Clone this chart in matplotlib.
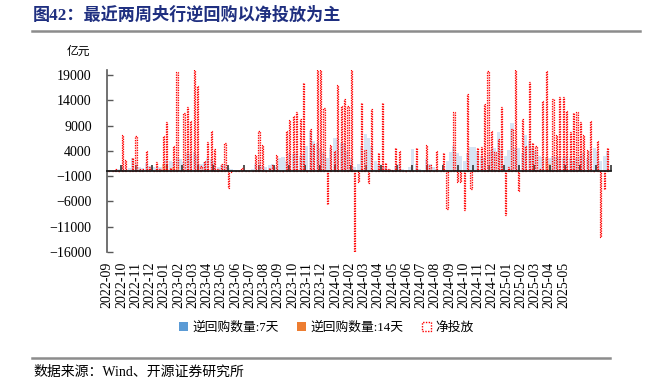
import numpy as np
import matplotlib.pyplot as plt
from matplotlib.patches import Patch

plt.rcParams['font.family'] = ['Liberation Serif', 'Noto Sans CJK SC', 'DejaVu Sans']

N = 147  # weekly points, 2022-09 .. 2025-06

# net injection (亿元): {week index: value}
net_pts = {
    2: 500, 4: 7100, 5: 2100, 7: 2500, 8: 7000, 9: 400, 10: 400, 11: 4000,
    12: 800, 14: 1800, 15: 400, 16: 7000, 17: 9700, 18: 650, 19: 5000,
    20: 19600, 22: 11500, 23: 12700, 24: 10000, 25: 20000, 26: 16900,
    27: 1000, 28: 2000, 29: 5700, 30: 8000, 31: 4350, 32: 500, 33: 1400,
    34: 5500, 35: -3400, 36: -250, 38: 100, 39: 700, 41: 100, 42: 100,
    43: 3200, 44: 8000, 45: 5100, 46: 100, 47: 700, 48: 1200, 49: 3200,
    50: 100, 51: 100, 52: 8000, 53: 10200, 54: 10900, 55: 11700, 56: 10400,
    57: 17500, 59: 8400, 60: 5300, 61: 20000, 62: 20000, 63: 12500,
    64: -6600, 65: 5100, 66: 4000, 67: 17000, 68: 12900, 69: 14200,
    70: 12900, 71: 20000, 72: -16300, 73: -2100, 74: 13400, 75: 4100,
    76: -2400, 77: 12200, 78: 100, 79: 3600, 80: 13400, 81: 1600, 82: 400,
    83: 300, 84: 4500, 85: 4000, 86: 100, 87: 100, 88: 100, 90: 4500,
    91: 100, 92: 100, 93: 5100, 94: 1200, 95: 100, 96: 4000, 98: 3500,
    99: -7500, 100: 100, 101: 11700, 102: -2100, 103: -2100, 104: -7700,
    105: 15200, 106: -3600, 108: 4600, 109: 4800, 110: 13200, 111: 19800,
    112: 8000, 113: 3700, 114: 6300, 115: 12600, 116: -8600, 117: 850,
    118: 8300, 119: 20000, 120: -4000, 121: 10300, 122: 4900, 123: 17700,
    124: 5500, 125: 4900, 126: 400, 127: 13800, 128: 19800, 129: 100,
    130: 14200, 131: 7100, 132: 14600, 133: 14600, 134: 11900, 135: 7800,
    136: 11400, 137: 11600, 138: 9800, 139: 7100, 140: 4100, 141: 9900,
    143: 5900, 144: -13000, 145: -3600, 146: 4500,
}

# 7-day reverse repo volume (亿元)
rr7 = [0, 0, 300, 500, 800, 300, 600, 2600, 1500, 800,
       600, 1600, 1000, 900, 700, 800, 1500, 2200, 2000, 1800,
       2500, 2400, 1800, 3500, 3300, 3800, 3200, 1500, 1800, 2600,
       2400, 2000, 900, 1200, 1500, 600, 400, 300, 200, 300,
       200, 300, 400, 1500, 2000, 1000, 800, 1200, 1500, 900,
       2500, 2800, 2000, 3500, 3300, 3600, 3000, 3300, 5000, 8000,
       6000, 5500, 4500, 3500, 2500, 4500, 6600, 6600, 5500, 5500,
       4000, 2500, 800, 1500, 5000, 7400, 6500, 5000, 2000, 1500,
       1200, 800, 500, 300, 1000, 1500, 500, 300, 800, 4350,
       1500, 500, 300, 2300, 1500, 800, 500, 300, 1000, 2000,
       3700, 5000, 3500, 3000, 2000, 3500, 4800, 4800, 4000, 3000,
       2500, 3500, 4200, 4500, 7800, 4200, 3000, 4100, 9600, 4500,
       4500, 3500, 7100, 6000, 4500, 4000, 3000, 2800, 2500, 2500,
       3000, 2800, 2800, 2500, 3000, 2500, 2000, 2500, 3000, 3500,
       2500, 4000, 4500, 4000, 2000, 3000, 4000]

# 14-day reverse repo volume (亿元)
rr14_pts = {16: 1500, 17: 1200, 19: 800, 20: 1000, 128: 2800, 129: 1500}

month_labels = [f'{y}-{m:02d}' for y in (2022, 2023, 2024, 2025)
                for m in range(1, 13)
                if (2022, 9) <= (y, m) <= (2025, 5)]

net = np.zeros(N)
for k, v in net_pts.items():
    net[k] = v
rr14 = np.zeros(N)
for k, v in rr14_pts.items():
    rr14[k] = v
x = np.arange(N)

fig = plt.figure(figsize=(6.7, 3.88), dpi=100)
ax = fig.add_axes([107 / 670, 1 - 252 / 388, 504 / 670, 182 / 388])

ax.bar(x, rr7, width=0.9, color='#cfe0f2', alpha=0.85, zorder=1)
ax.bar(x, rr14, width=0.9, color='#f6c29c', alpha=0.85, zorder=1)
ax.bar(x, net, width=0.35, facecolor=(1, 0.6, 0.6, 0.5), edgecolor='#ff0000',
       linewidth=0.9, linestyle=(0, (1, 1)), zorder=2)

ax.set_xlim(-0.5, N - 0.5)
ax.set_ylim(-16000, 20000)
ax.set_yticks(np.arange(-16000, 19001, 5000))
ax.tick_params(axis='y', direction='in', length=4, width=1, color='#595959',
               labelsize=10, pad=11)
ax.spines['left'].set_color('#595959')
ax.spines['left'].set_linewidth(1.2)
ax.spines['top'].set_visible(False)
ax.spines['right'].set_visible(False)

# zero line carries the short month ticks
ax.spines['bottom'].set_position(('data', 0))
ax.spines['bottom'].set_color('#1a1a1a')
ax.spines['bottom'].set_linewidth(1.3)
ax.spines['bottom'].set_zorder(3)
ax.set_xticks(np.arange(3.6, N, 4.48))
ax.tick_params(axis='x', direction='in', length=4, width=1.2, color='#333333',
               labelbottom=False)

# month labels along the bottom
sec = ax.secondary_xaxis('bottom')
sec.spines['bottom'].set_visible(False)
sec.set_xticks(np.linspace(-0.45, 133.1, len(month_labels)))
sec.set_xticklabels(month_labels, rotation=90, fontsize=10)
sec.tick_params(length=0, pad=7)

fig.text(0.1, 1 - 52 / 388, '亿元', fontsize=8.5, ha='left', va='center')

# title and rules
fig.text(33 / 670, 1 - 15 / 388, '图42：最近两周央行逆回购以净投放为主',
         fontsize=12.3, fontweight='bold', color='#1f2f80', ha='left', va='center')
fig.add_artist(plt.Line2D([32 / 670, 640 / 670], [1 - 31 / 388, 1 - 31 / 388],
                          color='#8c8c8c', linewidth=1.8))
fig.add_artist(plt.Line2D([32 / 670, 610 / 670], [1 - 358 / 388, 1 - 358 / 388],
                          color='#8c8c8c', linewidth=1.8))
fig.text(33 / 670, 1 - 372 / 388, '数据来源：Wind、开源证券研究所',
         fontsize=10, ha='left', va='center')

handles = [Patch(facecolor='#5b9bd5', edgecolor='none'),
           Patch(facecolor='#ed7d31', edgecolor='none'),
           Patch(facecolor='none', edgecolor='#ff0000', linestyle=(0, (1, 1)), linewidth=1)]
fig.legend(handles, ['逆回购数量:7天', '逆回购数量:14天', '净投放'],
           loc='center', bbox_to_anchor=(0.487, 1 - 328 / 388), ncol=3,
           frameon=False, fontsize=9.2, handlelength=0.7, handleheight=0.7,
           handletextpad=0.3, columnspacing=1.5)

fig.savefig('out.png', dpi=100)
